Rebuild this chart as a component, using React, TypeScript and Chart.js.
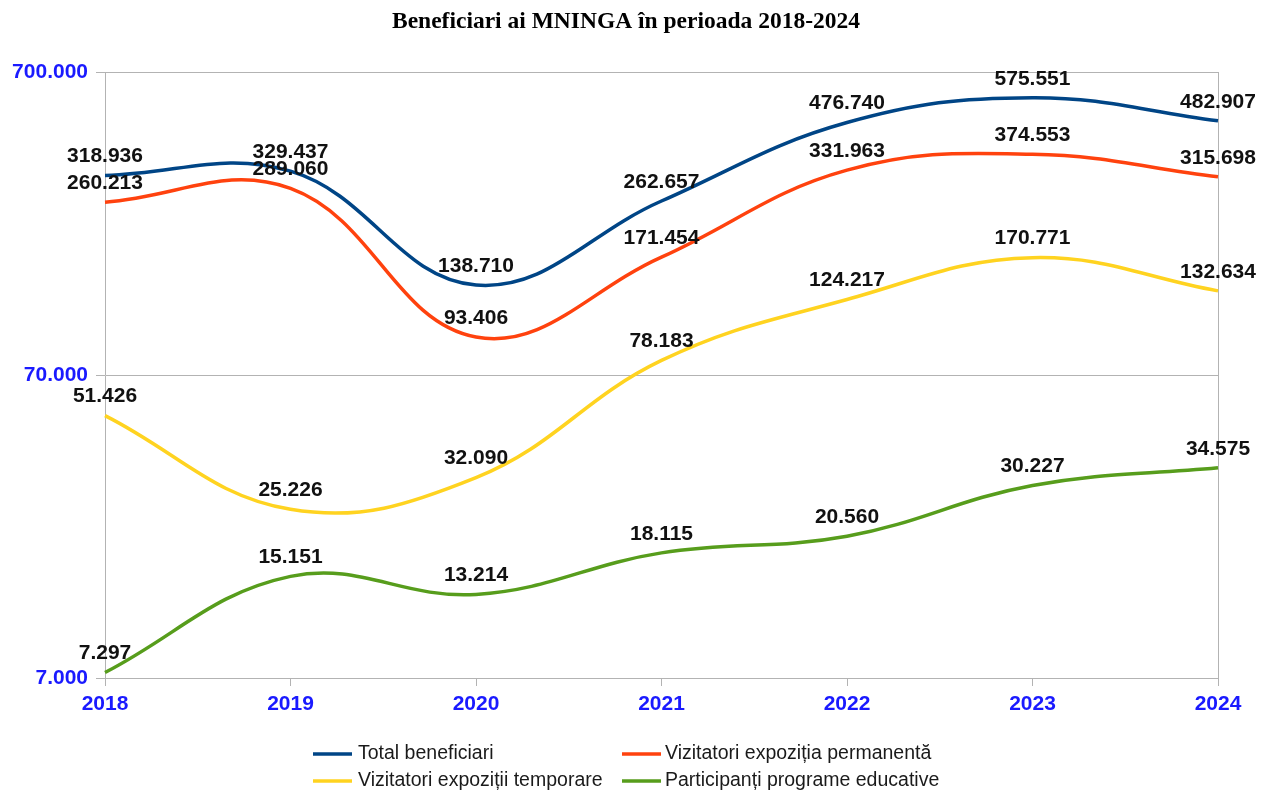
import React, { useEffect, useRef } from "react";
import { Chart, registerables } from "chart.js";

Chart.register(...registerables);

const years = ["2018", "2019", "2020", "2021", "2022", "2023", "2024"];
const totalBeneficiari = [318936, 329437, 138710, 262657, 476740, 575551, 482907];
const vizitatoriPermanenta = [260213, 289060, 93406, 171454, 331963, 374553, 315698];
const vizitatoriTemporare = [51426, 25226, 32090, 78183, 124217, 170771, 132634];
const participantiEducative = [7297, 15151, 13214, 18115, 20560, 30227, 34575];
const yTicks = [7000, 70000, 700000];

const seriesNames = [
  "Total beneficiari",
  "Vizitatori expoziția permanentă",
  "Vizitatori expoziții temporare",
  "Participanți programe educative",
];
const seriesColors = ["#004586", "#ff420e", "#ffd320", "#579d1c"];
const titleText = "Beneficiari ai MNINGA în perioada 2018-2024";

const fmt = (n: number) => String(Math.round(n)).replace(/\B(?=(\d{3})+(?!\d))/g, ".");

const decorPlugin = {
  id: "decor",
  beforeDatasetsDraw(chart: any) {
    const { ctx, chartArea } = chart;
    ctx.save();
    ctx.strokeStyle = "#b3b3b3";
    ctx.lineWidth = 1;
    ctx.beginPath();
    ctx.moveTo(Math.round(chartArea.right) + 0.5, chartArea.top);
    ctx.lineTo(Math.round(chartArea.right) + 0.5, chartArea.bottom);
    ctx.stroke();
    ctx.restore();
  },
  afterDatasetsDraw(chart: any) {
    const { ctx } = chart;
    ctx.save();
    ctx.font = "bold 21px 'Liberation Sans', Arial, sans-serif";
    ctx.fillStyle = "#111111";
    ctx.textAlign = "center";
    ctx.textBaseline = "middle";
    chart.data.datasets.forEach((ds: any, i: number) => {
      const meta = chart.getDatasetMeta(i);
      meta.data.forEach((pt: any, j: number) => {
        ctx.fillText(fmt(ds.data[j]), pt.x, pt.y - 19);
      });
    });
    ctx.restore();
  },
  afterDraw(chart: any) {
    const { ctx } = chart;
    ctx.save();
    // title
    ctx.font = "bold 23.5px 'Liberation Serif', 'Times New Roman', serif";
    ctx.fillStyle = "#000000";
    ctx.textAlign = "center";
    ctx.textBaseline = "middle";
    ctx.fillText(titleText, 626, 22);
    // legend
    const pos = [
      { lx: 313, tx: 358, y: 754 },
      { lx: 622, tx: 665, y: 754 },
      { lx: 313, tx: 358, y: 781 },
      { lx: 622, tx: 665, y: 781 },
    ];
    ctx.font = "19.5px 'Liberation Sans', Arial, sans-serif";
    ctx.textAlign = "left";
    ctx.fillStyle = "#1a1a1a";
    seriesNames.forEach((name, i) => {
      const p = pos[i];
      ctx.strokeStyle = seriesColors[i];
      ctx.lineWidth = 3.5;
      ctx.beginPath();
      ctx.moveTo(p.lx, p.y);
      ctx.lineTo(p.lx + 39, p.y);
      ctx.stroke();
      ctx.fillText(name, p.tx, p.y);
    });
    ctx.restore();
  },
};

export default function App() {
  const ref = useRef<HTMLCanvasElement | null>(null);
  useEffect(() => {
    if (!ref.current) return;
    const seriesData = [totalBeneficiari, vizitatoriPermanenta, vizitatoriTemporare, participantiEducative];
    const chart = new Chart(ref.current, {
      type: "line",
      data: {
        labels: years,
        datasets: seriesNames.map((name, i) => ({
          label: name,
          data: seriesData[i],
          borderColor: seriesColors[i],
          backgroundColor: seriesColors[i],
          borderWidth: 3.5,
          pointRadius: 0,
          tension: 0.4,
          fill: false,
        })),
      },
      options: {
        responsive: false,
        animation: false,
        layout: { padding: { top: 72, right: 45, left: 0, bottom: 0 } },
        plugins: {
          legend: { display: false },
          title: { display: false },
          tooltip: { enabled: false },
        },
        scales: {
          x: {
            offset: false,
            grid: { drawOnChartArea: false, drawTicks: true, tickLength: 8, color: "#b3b3b3" },
            border: { display: true, color: "#b3b3b3" },
            ticks: {
              color: "#1a1aff",
              font: { family: "'Liberation Sans', Arial, sans-serif", size: 21, weight: "bold" },
              padding: 6,
              maxRotation: 0,
            },
            afterFit: (s: any) => {
              s.height = 114;
            },
          },
          y: {
            type: "logarithmic",
            min: 7000,
            max: 700000,
            grid: { color: "#b3b3b3", tickLength: 9, drawTicks: true },
            border: { display: true, color: "#b3b3b3" },
            ticks: {
              color: "#1a1aff",
              font: { family: "'Liberation Sans', Arial, sans-serif", size: 21, weight: "bold" },
              padding: 8,
              callback: (v: any) => fmt(Number(v)),
            },
            afterBuildTicks: (s: any) => {
              s.ticks = yTicks.map((v) => ({ value: v }));
            },
            afterFit: (s: any) => {
              s.width = 105;
            },
          },
        },
      },
      plugins: [decorPlugin],
    });
    return () => chart.destroy();
  }, []);
  return (
    <div style={{ position: "absolute", left: 0, top: 0, width: 1263, height: 792, background: "#ffffff" }}>
      <canvas ref={ref} width={1263} height={792} />
    </div>
  );
}
